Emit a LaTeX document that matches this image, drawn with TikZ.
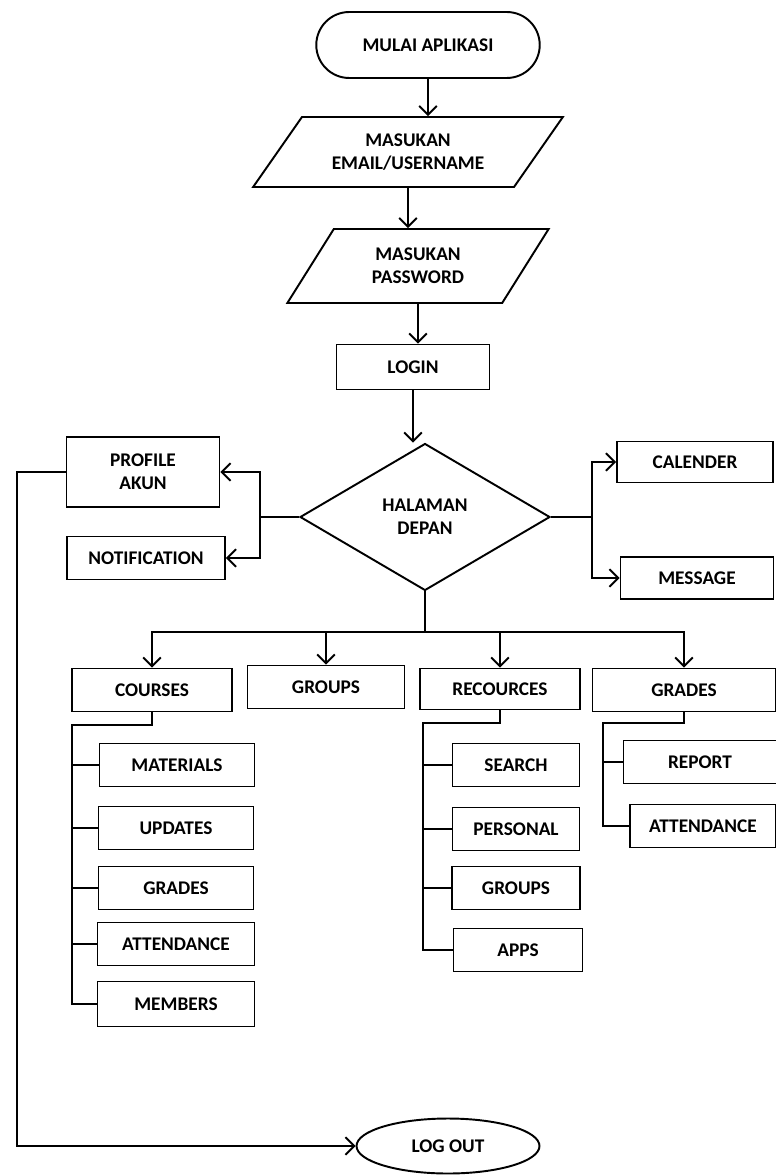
\documentclass[tikz,border=0pt]{standalone}
\usepackage{fontspec}
\setmainfont{Carlito}
\usetikzlibrary{arrows.meta,shapes.geometric,shapes.misc}
\tikzset{
  box/.style={draw, line width=1.1pt, minimum width=3.1cm, minimum height=0.86cm, inner sep=1pt, align=center, font=\fontsize{11}{13}\selectfont\bfseries},
  inbox/.style={box, trapezium, trapezium stretches=true},
  ln/.style={line width=1.1pt},
  arr/.style={line width=1.1pt, -{Straight Barb[length=5pt,width=10pt,line width=1.1pt]}}
}

\begin{document}
\begin{tikzpicture}[x=0.02cm, y=-0.02cm]
		%%%%% START %%%%%
		\useasboundingbox (0,0) rectangle (776,1175);
		
		\node[box, rounded rectangle, minimum width=4.54cm, minimum height=1.32cm] (mulai) at (428,45) {MULAI APLIKASI};
		\node[inbox, trapezium left angle=48, trapezium right angle=132, minimum width=6.2cm, minimum height=1.4cm] (email) at (408,152) {MASUKAN\\EMAIL/USERNAME};
		\node[inbox, trapezium left angle=56, trapezium right angle=124, minimum width=5.24cm, minimum height=1.48cm] (pass) at (418,266) {MASUKAN\\PASSWORD};
		\node[box, minimum width=3.06cm, minimum height=0.9cm] (login) at (413,367) {LOGIN};
		\node[box, diamond, minimum width=5cm, minimum height=2.94cm, inner sep=0pt] (depan) at (425,517) {HALAMAN\\DEPAN};
		
		\draw[arr] (mulai.south) -- (mulai.south |- email.north);
		\draw[arr] (email.south) -- (email.south |- pass.north);
		\draw[arr] (pass.south) -- (pass.south |- login.north);
		\draw[arr] (login.south) -- (login.south |- depan.north);
		
		\node[box, minimum width=3.06cm, minimum height=1.4cm] (profile) at (143,472) {PROFILE\\AKUN};
		\node[box, minimum width=3.16cm] (notif) at (146,558) {NOTIFICATION};
		\node[box, minimum width=3.12cm, minimum height=0.82cm] (calender) at (695,462) {CALENDER};
		\node[box, minimum width=3.06cm, minimum height=0.84cm] (message) at (697,578) {MESSAGE};
		
		\coordinate (kiri) at (260,517);
		\coordinate (kanan) at (592,517);
		\draw[ln] (depan.west) -- (kiri);
		\draw[arr] (kiri) |- (profile.east);
		\draw[arr] (kiri) |- (notif.east);
		\draw[ln] (depan.east) -- (kanan);
		\draw[arr] (kanan) |- (calender.west);
		\draw[arr] (kanan) |- (message.west);
		
		\node[box, minimum width=3.2cm] (courses) at (152,690) {COURSES};
		\node[box, minimum width=3.14cm] (groups) at (326,687) {GROUPS};
		\node[box, minimum width=3.2cm, minimum height=0.82cm] (recources) at (500,689) {RECOURCES};
		\node[box, minimum width=3.66cm] (grades) at (684,690) {GRADES};
		
		\coordinate (cabang) at (425,632);
		\draw[ln] (depan.south) -- (cabang);
		\draw[arr] (cabang) -| (courses.north);
		\draw[arr] (cabang) -| (groups.north);
		\draw[arr] (cabang) -| (recources.north);
		\draw[arr] (cabang) -| (grades.north);
		
		% courses
		\node[box] (materials) at (177,765) {MATERIALS};
		\node[box] (updates) at (176,828) {UPDATES};
		\node[box] (cgrades) at (176,888) {GRADES};
		\node[box, minimum width=3.14cm] (cattend) at (176,944) {ATTENDANCE};
		\node[box, minimum width=3.14cm, minimum height=0.9cm] (members) at (176,1004) {MEMBERS};
		
		\coordinate (ctrunk) at (72,725);
		\draw[ln] (courses.south) |- (ctrunk) |- (members.west);
		\draw[ln] (ctrunk |- materials.west) -- (materials.west);
		\draw[ln] (ctrunk |- updates.west) -- (updates.west);
		\draw[ln] (ctrunk |- cgrades.west) -- (cgrades.west);
		\draw[ln] (ctrunk |- cattend.west) -- (cattend.west);
		
		% recources
		\node[box, minimum width=2.54cm] (search) at (516,765) {SEARCH};
		\node[box, minimum width=2.54cm] (personal) at (516,829) {PERSONAL};
		\node[box, minimum width=2.56cm] (rgroups) at (516,888) {GROUPS};
		\node[box, minimum width=2.58cm] (apps) at (518,950) {APPS};
		
		\coordinate (rtrunk) at (423,723);
		\draw[ln] (recources.south) |- (rtrunk) |- (apps.west);
		\draw[ln] (rtrunk |- search.west) -- (search.west);
		\draw[ln] (rtrunk |- personal.west) -- (personal.west);
		\draw[ln] (rtrunk |- rgroups.west) -- (rgroups.west);
		
		% grades
		\node[box, minimum width=3.06cm] (report) at (700,762) {REPORT};
		\node[box, minimum width=2.92cm] (gattend) at (703,826) {ATTENDANCE};
		
		\coordinate (gtrunk) at (603,723);
		\draw[ln] (grades.south) |- (gtrunk) |- (gattend.west);
		\draw[ln] (gtrunk |- report.west) -- (report.west);
		
		% keluar
		\node[box, ellipse, minimum width=3.66cm, minimum height=1.1cm] (logout) at (448,1146) {LOG OUT};
		\draw[arr] (profile.west) -- ++(-49,0) |- (logout.west);
		
		%%%%% END %%%%%
\end{tikzpicture}
\end{document}
